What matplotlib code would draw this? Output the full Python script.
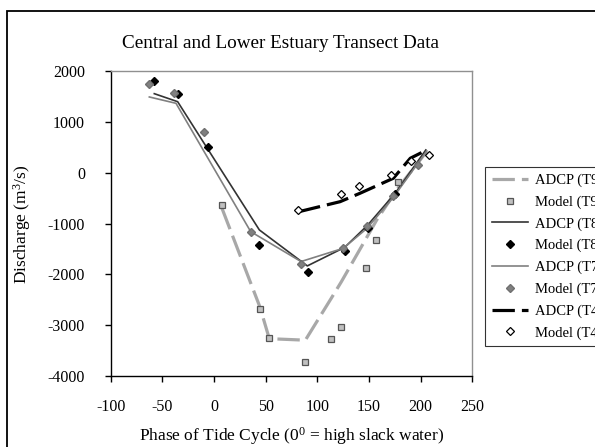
import matplotlib
matplotlib.use("Agg")
import matplotlib.pyplot as plt
from matplotlib.patches import Rectangle

plt.rcParams['font.family'] = ['Liberation Serif', 'DejaVu Serif']
plt.rcParams['mathtext.fontset'] = 'custom'
plt.rcParams['mathtext.rm'] = 'Liberation Serif'
plt.rcParams['mathtext.it'] = 'Liberation Serif'
plt.rcParams['axes.unicode_minus'] = False

# Transect T9
t9_adcp_phase = [7.7, 44.5, 53.5, 88.4, 113.3, 123.2, 147.1, 157.5, 178.1, 206]
t9_adcp_q = [-700, -2650, -3270, -3300, -2480, -2150, -1300, -930, -300, 420]
t9_model_phase = [7.7, 44.5, 53.5, 88.4, 113.3, 123.2, 147.1, 156.5, 178.1]
t9_model_q = [-634, -2677, -3249, -3734, -3268, -3032, -1870, -1330, -175]

# Transect T8
t8_adcp_phase = [-57.8, -35.2, -5.5, 43.9, 90.3, 126.5, 148.8, 175.5, 205]
t8_adcp_q = [1559, 1401, 450, -1127, -1836, -1470, -1030, -400, 450]
t8_model_phase = [-57.8, -34.5, -5.5, 43.9, 90.7, 126.5, 148.8, 175.5]
t8_model_q = [1803, 1547, 502, -1423, -1961, -1547, -1081, -424]

# Transect T7
t7_adcp_phase = [-62.6, -36.8, 35.5, 84.2, 125.2, 147.8, 173.0, 206]
t7_adcp_q = [1494, 1369, -1160, -1750, -1488, -1100, -500, 430]
t7_model_phase = [-62.6, -38.4, -10.0, 35.5, 84.2, 125.2, 147.8, 173.0, 197.8]
t7_model_q = [1750, 1566, 804, -1160, -1797, -1488, -1048, -457, 160]

# Transect T4
t4_adcp_phase = [81.6, 122.0, 141.3, 173.6, 190.0, 206]
t4_adcp_q = [-770, -570, -404, -108, 286, 450]
t4_model_phase = [81.6, 123.0, 140.4, 171.6, 190.7, 208.4]
t4_model_q = [-733, -424, -262, -43, 238, 357]

x_ticks = [-100, -50, 0, 50, 100, 150, 200, 250]
y_ticks = [-4000, -3000, -2000, -1000, 0, 1000, 2000]

W, H = 595, 447
fig = plt.figure(figsize=(W / 100, H / 100), dpi=100)

# outer frame of the chart area
fig.patches.append(Rectangle((7 / W, -0.2), 1.2, 1.2 - 11 / H,
                             transform=fig.transFigure, fill=False,
                             edgecolor='black', linewidth=1.3))

ax = fig.add_axes([110.7 / W, 1 - 375.7 / H, (472.3 - 110.7) / W, (375.7 - 71.3) / H])

dash = (0, (7, 2.2))
ax.plot(t9_adcp_phase, t9_adcp_q, color='#a8a8a8', lw=2.3, linestyle=dash,
        label='ADCP (T9)', zorder=2)
ax.plot(t9_model_phase, t9_model_q, linestyle='none', marker='s', ms=4.2,
        mfc='#c0c0c0', mec='#555555', mew=0.9, label='Model (T9)', zorder=4)
ax.plot(t8_adcp_phase, t8_adcp_q, color='#333333', lw=1.2, label='ADCP (T8)', zorder=3)
ax.plot(t8_model_phase, t8_model_q, linestyle='none', marker='D', ms=4.4,
        mfc='black', mec='black', label='Model (T8)', zorder=4)
ax.plot(t7_adcp_phase, t7_adcp_q, color='#808080', lw=1.2, label='ADCP (T7)', zorder=3)
ax.plot(t7_model_phase, t7_model_q, linestyle='none', marker='D', ms=4.4,
        mfc='#808080', mec='#707070', label='Model (T7)', zorder=4)
ax.plot(t4_adcp_phase, t4_adcp_q, color='black', lw=2.3, linestyle=dash,
        label='ADCP (T4)', zorder=3)
ax.plot(t4_model_phase, t4_model_q, linestyle='none', marker='D', ms=4.4,
        mfc='white', mec='black', mew=0.9, label='Model (T4)', zorder=5)

ax.set_xlim(-100, 250)
ax.set_ylim(-4000, 2000)
ax.set_xticks(x_ticks)
ax.set_yticks(y_ticks)
ax.tick_params(axis='both', direction='out', length=4, width=1, labelsize=11.5,
               colors='black')
ax.tick_params(axis='x', pad=13)
ax.tick_params(axis='y', pad=14.5)
for side in ('top', 'right'):
    ax.spines[side].set_color('#909090')
    ax.spines[side].set_linewidth(1)
for side in ('left', 'bottom'):
    ax.spines[side].set_color('black')
    ax.spines[side].set_linewidth(1)

fig.text(280 / W, 1 - 43 / H, 'Central and Lower Estuary Transect Data',
         ha='center', va='center', fontsize=13.8)
fig.text(291.5 / W, 1 - 436 / H, 'Phase of Tide Cycle (0$^0$ = high slack water)',
         ha='center', va='center', fontsize=12.5)
fig.text(22 / W, 1 - 224 / H, 'Discharge (m$^3$/s)', rotation=90,
         ha='center', va='center', fontsize=12.5)

leg = fig.legend(loc='upper left', bbox_to_anchor=(485 / W, 1 - 167 / H),
                 fontsize=10.5, frameon=True, fancybox=False, edgecolor='black',
                 handlelength=2.5, handletextpad=0.5, labelspacing=0.57,
                 borderpad=0.45, borderaxespad=0)
leg.get_frame().set_linewidth(0.8)

fig.savefig('out.png', dpi=100)
